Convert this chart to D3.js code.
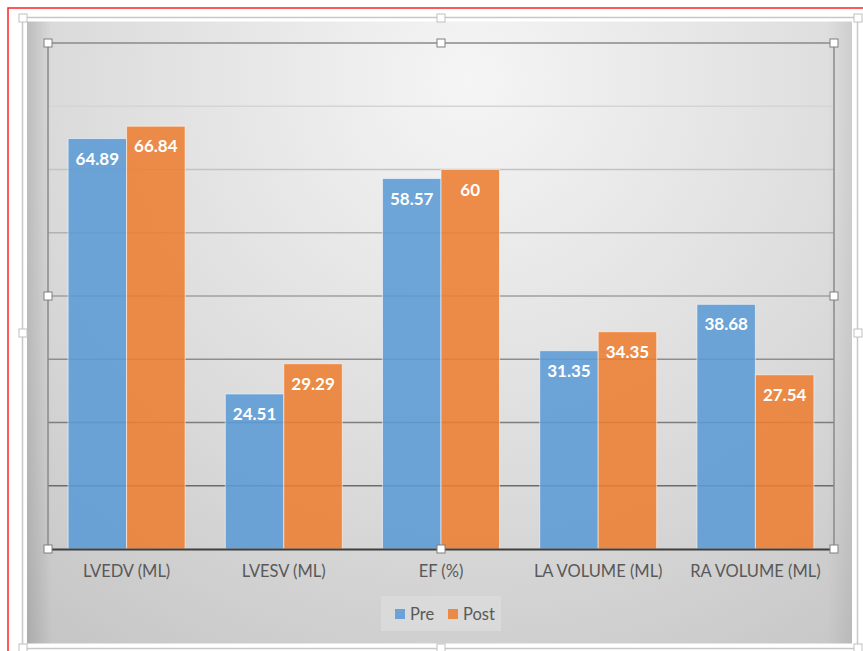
<!DOCTYPE html>
<html>
<head>
<meta charset="utf-8">
<script src="https://cdn.jsdelivr.net/npm/d3@7"></script>
<style>
  html, body { margin: 0; padding: 0; background: #ffffff; }
  svg { display: block; }
  text { font-family: Lato, "Open Sans", "Liberation Sans", sans-serif; }
</style>
</head>
<body>
<div id="chart"></div>
<script>
// Echo measurements before and after the intervention
const categories = ["LVEDV (ML)", "LVESV (ML)", "EF (%)", "LA VOLUME (ML)", "RA VOLUME (ML)"];
const seriesNames = ["Pre", "Post"];
const preValues = [64.89, 24.51, 58.57, 31.35, 38.68];
const postValues = [66.84, 29.29, 60, 34.35, 27.54];
const yTicks = [0, 10, 20, 30, 40, 50, 60, 70, 80];

const seriesColors = { Pre: "#5b9bd5", Post: "#ed7d31" };

const width = 863, height = 651;
const plot = { left: 48, top: 43, right: 834, bottom: 549 };

const rows = categories.map((c, i) => ({ category: c, Pre: preValues[i], Post: postValues[i] }));

const svg = d3.select("#chart").append("svg")
  .attr("width", width).attr("height", height);

const defs = svg.append("defs");

// chart area fill: light at the top centre, greyer towards the edges
const bg = defs.append("radialGradient").attr("id", "areaFill")
  .attr("gradientUnits", "userSpaceOnUse")
  .attr("cx", 470).attr("cy", 80).attr("r", 720);
bg.append("stop").attr("offset", "0").attr("stop-color", "#f5f5f5");
bg.append("stop").attr("offset", "0.55").attr("stop-color", "#dcdcdc");
bg.append("stop").attr("offset", "1").attr("stop-color", "#c4c4c4");

// soft shading along the left and right edges
const edge = defs.append("linearGradient").attr("id", "edgeShade")
  .attr("gradientUnits", "userSpaceOnUse")
  .attr("x1", 27).attr("x2", 852).attr("y1", 0).attr("y2", 0);
edge.append("stop").attr("offset", "0").attr("stop-color", "#000").attr("stop-opacity", 0.13);
edge.append("stop").attr("offset", "0.03").attr("stop-color", "#000").attr("stop-opacity", 0.0);
edge.append("stop").attr("offset", "0.97").attr("stop-color", "#000").attr("stop-opacity", 0.0);
edge.append("stop").attr("offset", "1").attr("stop-color", "#000").attr("stop-opacity", 0.07);

// gridlines darken from top to bottom
const gridGrad = defs.append("linearGradient").attr("id", "gridStroke")
  .attr("gradientUnits", "userSpaceOnUse")
  .attr("x1", 0).attr("x2", 0).attr("y1", plot.top).attr("y2", plot.bottom);
gridGrad.append("stop").attr("offset", "0").attr("stop-color", "#e6e6e6");
gridGrad.append("stop").attr("offset", "1").attr("stop-color", "#5a5a5a");

// page frame line
svg.append("path")
  .attr("d", `M8,651 L8,8 L863,8`)
  .attr("fill", "none").attr("stroke", "#f22").attr("stroke-width", 1.5);

// chart area frame and fill
svg.append("rect")
  .attr("x", 22.5).attr("y", 17.5).attr("width", 835).attr("height", 631)
  .attr("fill", "#ffffff").attr("stroke", "#c8c8c8").attr("stroke-width", 1.5);
svg.append("rect")
  .attr("x", 27).attr("y", 21.5).attr("width", 825).attr("height", 622)
  .attr("fill", "url(#areaFill)");
svg.append("rect")
  .attr("x", 27).attr("y", 21.5).attr("width", 825).attr("height", 622)
  .attr("fill", "url(#edgeShade)");

// scales
const x0 = d3.scaleBand()
  .domain(categories)
  .range([plot.left, plot.right])
  .paddingInner(0.256)
  .paddingOuter(0.128);
const x1 = d3.scaleBand()
  .domain(seriesNames)
  .range([0, x0.bandwidth()])
  .padding(0);
const y = d3.scaleLinear()
  .domain([yTicks[0], yTicks[yTicks.length - 1]])
  .range([plot.bottom, plot.top]);

// horizontal gridlines
svg.append("g").selectAll("line")
  .data(yTicks.slice(1, -1))
  .join("line")
  .attr("x1", plot.left).attr("x2", plot.right)
  .attr("y1", d => y(d)).attr("y2", d => y(d))
  .attr("stroke", "url(#gridStroke)").attr("stroke-width", 1.4);

// plot area border (top, left, right)
svg.append("path")
  .attr("d", `M${plot.left},${plot.bottom} L${plot.left},${plot.top} L${plot.right},${plot.top} L${plot.right},${plot.bottom}`)
  .attr("fill", "none").attr("stroke", "#8a8a8a").attr("stroke-width", 1.5);

// bars
const groups = svg.append("g").selectAll("g")
  .data(rows)
  .join("g")
  .attr("transform", d => `translate(${x0(d.category)},0)`);

groups.selectAll("rect")
  .data(d => seriesNames.map(s => ({ series: s, value: d[s] })))
  .join("rect")
  .attr("x", d => x1(d.series))
  .attr("y", d => y(d.value))
  .attr("width", x1.bandwidth())
  .attr("height", d => y(0) - y(d.value))
  .attr("fill", d => seriesColors[d.series])
  .attr("fill-opacity", 0.88)
  .attr("stroke", "rgba(255,255,255,0.55)")
  .attr("stroke-width", 1);

// value labels inside the bar ends
groups.selectAll("text.value")
  .data(d => seriesNames.map(s => ({ series: s, value: d[s] })))
  .join("text")
  .attr("class", "value")
  .attr("x", d => x1(d.series) + x1.bandwidth() / 2)
  .attr("y", d => y(d.value) + 26)
  .attr("text-anchor", "middle")
  .attr("fill", "#ffffff")
  .attr("font-weight", 700)
  .attr("font-size", "17px")
  .text(d => String(d.value));

// category axis
const xAxis = svg.append("g")
  .attr("transform", `translate(0,${plot.bottom})`)
  .call(d3.axisBottom(x0).tickSize(0).tickPadding(16));
xAxis.select(".domain").attr("stroke", "#3f3f3f").attr("stroke-width", 2.2);
xAxis.selectAll("text")
  .attr("fill", "#595959")
  .attr("font-size", "16.5px")
  .attr("font-family", "Lato, 'Open Sans', sans-serif");

// legend
const legend = svg.append("g");
legend.append("rect")
  .attr("x", 381).attr("y", 596).attr("width", 120).attr("height", 35)
  .attr("fill", "#dadada");
const legendItems = [{ name: "Pre", x: 395 }, { name: "Post", x: 448 }];
legend.selectAll("rect.key")
  .data(legendItems).join("rect").attr("class", "key")
  .attr("x", d => d.x).attr("y", 609).attr("width", 10).attr("height", 10)
  .attr("fill", d => seriesColors[d.name]).attr("fill-opacity", 0.88);
legend.selectAll("text")
  .data(legendItems).join("text")
  .attr("x", d => d.x + 15).attr("y", 619.5)
  .attr("fill", "#595959").attr("font-size", "16.5px")
  .text(d => d.name);

// selection handles on the chart area and plot area
function handles(cls, pts, size, stroke) {
  svg.append("g").selectAll("rect." + cls)
    .data(pts).join("rect").attr("class", cls)
    .attr("x", d => d[0] - size / 2).attr("y", d => d[1] - size / 2)
    .attr("width", size).attr("height", size)
    .attr("fill", "#ffffff").attr("stroke", stroke).attr("stroke-width", 1);
}
const midX = (plot.left + plot.right) / 2, midY = (plot.top + plot.bottom) / 2;
handles("plot-handle", [
  [plot.left, plot.top], [midX, plot.top], [plot.right, plot.top],
  [plot.left, midY], [plot.right, midY],
  [plot.left, plot.bottom], [midX, plot.bottom], [plot.right, plot.bottom]
], 8, "#7f7f7f");
handles("area-handle", [
  [23, 18], [441, 18], [858, 18],
  [23, 333], [858, 333],
  [23, 648], [441, 648], [858, 648]
], 8, "#c0c0c0");
</script>
</body>
</html>
